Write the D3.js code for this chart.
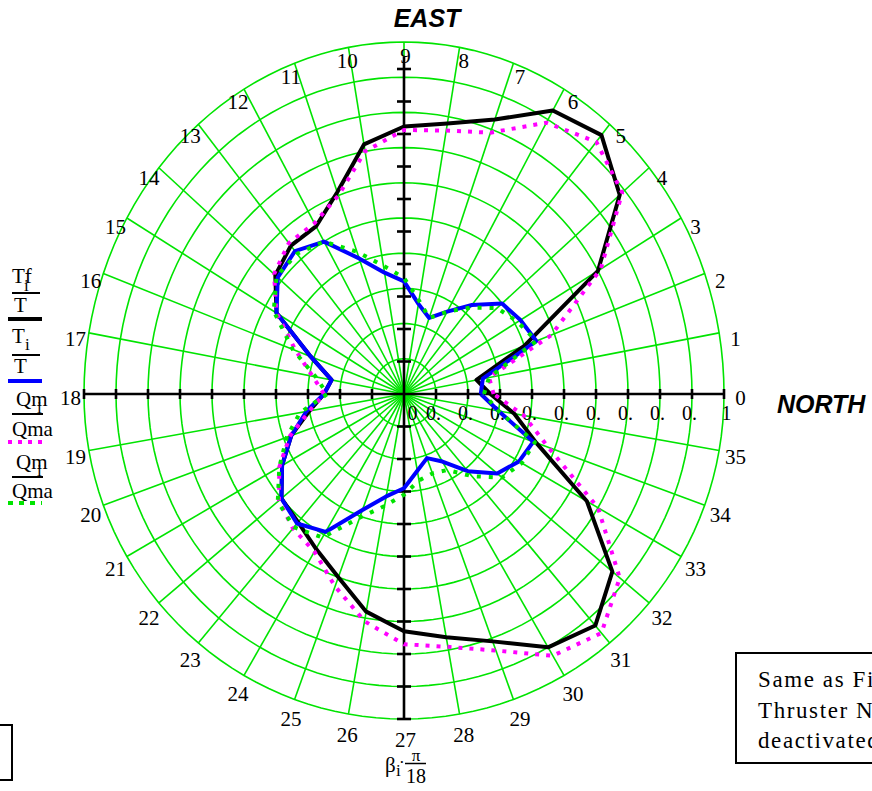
<!DOCTYPE html>
<html>
<head>
<meta charset="utf-8">
<script src="https://cdn.jsdelivr.net/npm/d3@7"></script>
<style>
  html, body { margin: 0; padding: 0; background: #fff; overflow: hidden; }
  svg { display: block; }
  .serif { font-family: "Liberation Serif", "Times New Roman", serif; }
  .sans { font-family: "Liberation Sans", Arial, sans-serif; font-weight: bold; font-style: italic; }
</style>
</head>
<body>
<svg id="chart" width="872" height="791"></svg>
<script>
// Direction index beta (angle = beta * pi / 18), one sample per 10 degrees.
const betaIdx = d3.range(0, 36);
const angleLabels = d3.range(0, 36).map(String);
const radialTickLabels = ["0", "0.", "0.", "0.", "0.", "0.", "0.", "0.", "0.", "0.", "1"];

// Tf / T
const thrustFinal = [0.27, 0.23, 0.40, 0.70, 0.88, 0.96, 0.93, 0.83, 0.78, 0.76,
                     0.72, 0.61, 0.55, 0.55, 0.525, 0.46, 0.31, 0.23, 0.25, 0.30,
                     0.375, 0.44, 0.50, 0.515, 0.55, 0.60, 0.68, 0.73, 0.76, 0.81,
                     0.90, 0.93, 0.85, 0.66, 0.44, 0.35];
// Ti / T
const thrustInit = [0.24, 0.25, 0.44, 0.42, 0.40, 0.33, 0.27, 0.23, 0.26, 0.32,
                    0.35, 0.41, 0.50, 0.53, 0.515, 0.46, 0.31, 0.23, 0.25, 0.31,
                    0.375, 0.44, 0.50, 0.52, 0.49, 0.38, 0.32, 0.29, 0.24, 0.21,
                    0.24, 0.31, 0.38, 0.415, 0.43, 0.30];
// Qm_i / Qmax (magenta)
const qRatioA = [0.28, 0.27, 0.49, 0.71, 0.89, 0.935, 0.89, 0.79, 0.76, 0.75,
                 0.70, 0.60, 0.56, 0.56, 0.53, 0.46, 0.36, 0.29, 0.25, 0.30,
                 0.38, 0.45, 0.51, 0.54, 0.56, 0.63, 0.71, 0.77, 0.79, 0.84,
                 0.93, 0.96, 0.88, 0.70, 0.48, 0.38];
// Qm_i / Qmax (green)
const qRatioB = [0.25, 0.27, 0.44, 0.41, 0.38, 0.32, 0.27, 0.23, 0.27, 0.33,
                 0.37, 0.43, 0.50, 0.52, 0.52, 0.47, 0.37, 0.28, 0.24, 0.33,
                 0.39, 0.45, 0.515, 0.535, 0.51, 0.405, 0.35, 0.31, 0.27, 0.26,
                 0.27, 0.33, 0.40, 0.425, 0.435, 0.30];

const svg = d3.select("#chart");
const cx = 404, cy = 394;
const GREEN = "#00e400";

// Polar frame: horizontal reach and separate upper / lower vertical reach.
const rX = d3.scaleLinear().domain([0, 1]).range([0, 320]);
const rUp = d3.scaleLinear().domain([0, 1]).range([0, 352]);
const rDown = d3.scaleLinear().domain([0, 1]).range([0, 325]);
const angle = d3.scaleLinear().domain([0, 36]).range([0, 2 * Math.PI]);
// Axis tick scale (black axes)
const axisX = d3.scaleLinear().domain([0, 1]).range([0, 320]);
const axisY = d3.scaleLinear().domain([0, 1]).range([0, 325]);

function project(beta, r) {
  const a = angle(beta);
  const s = Math.sin(a);
  return [cx + rX(r) * Math.cos(a), cy - (s >= 0 ? rUp(r) : rDown(r)) * s];
}

const closedLine = d3.line().curve(d3.curveLinearClosed);

// Grid rings
const grid = svg.append("g").attr("fill", "none").attr("stroke", GREEN).attr("stroke-width", 1.6);
const ringSteps = d3.range(0, 36, 0.25);
d3.range(1, 11).map(d => d / 10).forEach(r => {
  grid.append("path").attr("d", closedLine(ringSteps.map(b => project(b, r))));
});
// Spokes
betaIdx.forEach(b => {
  const p = project(b, 1);
  grid.append("line").attr("x1", cx).attr("y1", cy).attr("x2", p[0]).attr("y2", p[1]);
});

// Black axes with ticks
const axes = svg.append("g").attr("stroke", "#000").attr("stroke-width", 2.6);
axes.append("line").attr("x1", cx - axisX(1) - 1).attr("x2", cx + axisX(1)).attr("y1", cy).attr("y2", cy);
axes.append("line").attr("x1", cx).attr("x2", cx).attr("y1", 57).attr("y2", cy + axisY(1));
const tickVals = d3.range(1, 11).map(d => d / 10);
tickVals.forEach(t => {
  [1, -1].forEach(sg => {
    const x = cx + sg * axisX(t);
    axes.append("line").attr("x1", x).attr("x2", x).attr("y1", cy - 5).attr("y2", cy + 5);
    const y = cy - sg * axisY(t);
    axes.append("line").attr("x1", cx - 7).attr("x2", cx + 7).attr("y1", y).attr("y2", y);
  });
});

// Radial tick labels along the north axis
const tickLabelG = svg.append("g").attr("class", "serif").attr("font-size", 20).attr("fill", "#000");
radialTickLabels.forEach((lab, i) => {
  const x = cx + axisX(i / 10);
  const dx = i === 0 ? 8.5 : (i === 10 ? 2.5 : -2.5);
  tickLabelG.append("text").attr("x", x + dx).attr("y", 420).attr("text-anchor", "middle").text(lab);
});

// Direction labels around the rim
const angG = svg.append("g").attr("class", "serif").attr("font-size", 21).attr("fill", "#000");
angleLabels.forEach((lab, i) => {
  const a = angle(i);
  angG.append("text")
    .attr("x", 405.5 + 335 * Math.cos(a))
    .attr("y", 398 - 342 * Math.sin(a))
    .attr("text-anchor", "middle")
    .attr("dominant-baseline", "central")
    .text(lab);
});

// Traces
const series = [
  { values: thrustFinal, color: "#000", width: 4, dash: null },
  { values: thrustInit, color: "#0000ff", width: 4, dash: null },
  { values: qRatioA, color: "#ff00ff", width: 4, dash: "4,7" },
  { values: qRatioB, color: GREEN, width: 4, dash: "4,8" }
];
const traceLine = d3.line();
series.forEach(s => {
  const pts = betaIdx.map((b, i) => project(b, s.values[i]));
  pts.push(project(36, s.values[0]));
  svg.append("path")
    .attr("d", traceLine(pts))
    .attr("fill", "none")
    .attr("stroke", s.color)
    .attr("stroke-width", s.width)
    .attr("stroke-linejoin", "round")
    .attr("stroke-dasharray", s.dash);
});

// Compass words
svg.append("text").attr("class", "sans").attr("font-size", 25)
  .attr("x", 427).attr("y", 27).attr("text-anchor", "middle").text("EAST");
svg.append("text").attr("class", "sans").attr("font-size", 25)
  .attr("x", 777).attr("y", 413).text("NORTH");

// Legend
const leg = svg.append("g").attr("class", "serif").attr("fill", "#000");
function fracEntry(numMain, numX, numY, sub, subX, subY, barY, barW, den, denX, denY, color, dash, lineY) {
  leg.append("text").attr("font-size", 21).attr("x", numX).attr("y", numY).text(numMain);
  leg.append("text").attr("font-size", 17).attr("x", subX).attr("y", subY).text(sub);
  leg.append("line").attr("x1", 12).attr("x2", 12 + barW).attr("y1", barY).attr("y2", barY)
    .attr("stroke", "#000").attr("stroke-width", 2);
  leg.append("text").attr("font-size", 21).attr("x", denX).attr("y", denY).text(den);
  leg.append("line").attr("x1", 8).attr("x2", 42).attr("y1", lineY).attr("y2", lineY)
    .attr("stroke", color).attr("stroke-width", 4).attr("stroke-dasharray", dash);
}
fracEntry("Tf", 12, 283, "i", 24, 291, 293, 28, "T", 14, 312, "#000", null, 319);
fracEntry("T", 12, 343, "i", 25, 350, 355, 28, "T", 14, 373, "#0000ff", null, 381);
fracEntry("Qm", 16, 406, "i", 37, 413, 414, 31, "Qma", 12, 436, "#ff00ff", "4,6", 442);
fracEntry("Qm", 16, 469, "i", 37, 476, 477, 31, "Qma", 12, 498, GREEN, "5,6", 503);

// Angle-variable caption under the plot
const cap = svg.append("g").attr("class", "serif").attr("fill", "#000");
cap.append("text").attr("font-size", 21).attr("x", 385).attr("y", 772).text("β");
cap.append("text").attr("font-size", 17).attr("x", 396).attr("y", 776).text("i");
cap.append("text").attr("font-size", 17).attr("x", 399).attr("y", 768).text("·");
cap.append("text").attr("font-size", 17).attr("x", 416).attr("y", 761).attr("text-anchor", "middle").text("π");
cap.append("line").attr("x1", 405).attr("x2", 426).attr("y1", 763.5).attr("y2", 763.5).attr("stroke", "#000").attr("stroke-width", 1.5);
cap.append("text").attr("font-size", 20).attr("x", 416).attr("y", 783).attr("text-anchor", "middle").text("18");

// Note boxes
svg.append("rect").attr("x", 736).attr("y", 653).attr("width", 160).attr("height", 110)
  .attr("fill", "none").attr("stroke", "#000").attr("stroke-width", 2);
const note = svg.append("g").attr("class", "serif").attr("font-size", 23)
  .attr("letter-spacing", 1.6).attr("fill", "#000");
note.append("text").attr("x", 758).attr("y", 687).text("Same as Fig.");
note.append("text").attr("x", 758).attr("y", 718).text("Thruster No.");
note.append("text").attr("x", 758).attr("y", 748).text("deactivated");
svg.append("rect").attr("x", -20).attr("y", 725).attr("width", 32).attr("height", 55)
  .attr("fill", "none").attr("stroke", "#000").attr("stroke-width", 2);
</script>
</body>
</html>
